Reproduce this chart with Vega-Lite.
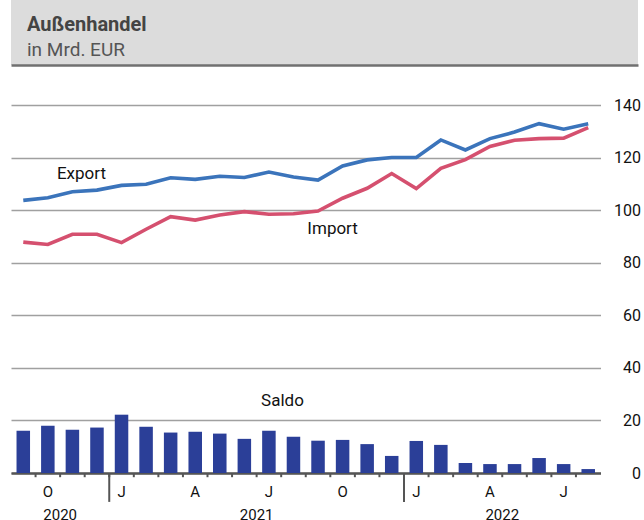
{
  "$schema": "https://vega.github.io/schema/vega-lite/v6.json",
  "padding": {"left": 11, "top": 0, "right": 0, "bottom": 0},
  "background": "#ffffff",
  "spacing": 14,
  "config": {
    "view": {"stroke": null},
    "font": "Roboto",
    "text": {"font": "Roboto"}
  },
  "datasets": {
    "trade": [
      {"month": "2020-09", "Export": 103.8, "Import": 87.9, "Saldo": 16.1},
      {"month": "2020-10", "Export": 104.8, "Import": 87.0, "Saldo": 18.0},
      {"month": "2020-11", "Export": 107.1, "Import": 90.9, "Saldo": 16.5},
      {"month": "2020-12", "Export": 107.7, "Import": 90.9, "Saldo": 17.3},
      {"month": "2021-01", "Export": 109.5, "Import": 87.7, "Saldo": 22.2},
      {"month": "2021-02", "Export": 109.9, "Import": 92.8, "Saldo": 17.6},
      {"month": "2021-03", "Export": 112.4, "Import": 97.6, "Saldo": 15.4},
      {"month": "2021-04", "Export": 111.8, "Import": 96.3, "Saldo": 15.7},
      {"month": "2021-05", "Export": 113.0, "Import": 98.2, "Saldo": 15.0},
      {"month": "2021-06", "Export": 112.5, "Import": 99.5, "Saldo": 13.0},
      {"month": "2021-07", "Export": 114.6, "Import": 98.5, "Saldo": 16.1},
      {"month": "2021-08", "Export": 112.7, "Import": 98.7, "Saldo": 13.8},
      {"month": "2021-09", "Export": 111.5, "Import": 99.7, "Saldo": 12.3},
      {"month": "2021-10", "Export": 116.9, "Import": 104.6, "Saldo": 12.6},
      {"month": "2021-11", "Export": 119.2, "Import": 108.4, "Saldo": 11.0},
      {"month": "2021-12", "Export": 120.1, "Import": 114.0, "Saldo": 6.5},
      {"month": "2022-01", "Export": 120.1, "Import": 108.3, "Saldo": 12.2},
      {"month": "2022-02", "Export": 126.8, "Import": 116.0, "Saldo": 10.7},
      {"month": "2022-03", "Export": 123.0, "Import": 119.3, "Saldo": 3.8},
      {"month": "2022-04", "Export": 127.3, "Import": 124.3, "Saldo": 3.4},
      {"month": "2022-05", "Export": 129.8, "Import": 126.7, "Saldo": 3.4},
      {"month": "2022-06", "Export": 133.0, "Import": 127.3, "Saldo": 5.7},
      {"month": "2022-07", "Export": 130.9, "Import": 127.5, "Saldo": 3.4},
      {"month": "2022-08", "Export": 133.0, "Import": 131.5, "Saldo": 1.5}
    ],
    "years": [
      {"year": "2020", "month": "2020-10"},
      {"year": "2021", "month": "2021-06"},
      {"year": "2022", "month": "2022-04"}
    ]
  },
  "vconcat": [
    {
      "width": 627,
      "height": 65,
      "view": {"fill": "#dcdcdc", "stroke": null},
      "title": {
        "text": "Außenhandel",
        "subtitle": "in Mrd. EUR",
        "anchor": "start",
        "frame": "group",
        "orient": "top",
        "offset": -60,
        "dx": 16,
        "font": "Roboto",
        "fontSize": 20,
        "fontWeight": "bold",
        "color": "#444444",
        "subtitleFont": "Roboto",
        "subtitleFontSize": 19,
        "subtitleColor": "#555555",
        "subtitlePadding": 6
      },
      "data": {"values": [{"a": 0}]},
      "mark": {"type": "text", "text": ""},
      "encoding": {
        "x": {
          "field": "a",
          "type": "quantitative",
          "axis": {
            "title": null, "labels": false, "ticks": false, "grid": false,
            "domain": true, "domainColor": "#707070", "domainWidth": 2.5
          }
        }
      }
    },
    {
      "width": 589.5,
      "height": 394,
      "data": {"name": "trade"},
      "layer": [
        {
          "mark": {"type": "bar", "color": "#2b3f98", "width": {"band": 0.55}},
          "encoding": {
            "x": {
              "field": "month",
              "type": "ordinal",
              "title": null,
              "scale": {"type": "band", "paddingInner": 0, "paddingOuter": 0},
              "axis": {
                "orient": "bottom",
                "domain": true,
                "domainColor": "#555555",
                "domainWidth": 2.5,
                "ticks": false,
                "tickSize": 0,
                "labelAngle": 0,
                "labelFontSize": 15,
                "labelColor": "#111111",
                "labelPadding": 11,
                "labelExpr": "slice(datum.value, 5) == '01' ? 'J' : slice(datum.value, 5) == '04' ? 'A' : slice(datum.value, 5) == '07' ? 'J' : slice(datum.value, 5) == '10' ? 'O' : ''",
                "grid": false
              }
            },
            "y": {
              "field": "Saldo",
              "type": "quantitative",
              "title": null,
              "scale": {"domain": [0, 150], "nice": false},
              "axis": {
                "orient": "right",
                "values": [0, 20, 40, 60, 80, 100, 120, 140],
                "grid": true,
                "gridColor": "#a0a0a0",
                "gridWidth": 1.3,
                "domain": false,
                "ticks": false,
                "labelAlign": "right",
                "labelPadding": 40,
                "labelFontSize": 16,
                "labelColor": "#111111"
              }
            }
          }
        },
        {
          "transform": [{"filter": "datum.month != '2022-08'"}],
          "mark": {"type": "rule", "color": "#555555", "strokeWidth": 2},
          "encoding": {
            "x": {"field": "month", "type": "ordinal", "bandPosition": 1, "title": null},
            "y": {"datum": 0, "type": "quantitative", "title": null},
            "y2": {"datum": -1.6}
          }
        },
        {
          "data": {"values": [{"boundary": "2020-12"}, {"boundary": "2021-12"}]},
          "mark": {"type": "rule", "color": "#555555", "strokeWidth": 2},
          "encoding": {
            "x": {"field": "boundary", "type": "ordinal", "bandPosition": 1, "title": null},
            "y": {"datum": 0, "type": "quantitative", "title": null},
            "y2": {"datum": -11}
          }
        },
        {
          "mark": {"type": "line", "color": "#3b74bb", "strokeWidth": 3.6},
          "encoding": {
            "x": {"field": "month", "type": "ordinal", "title": null},
            "y": {"field": "Export", "type": "quantitative", "title": null}
          }
        },
        {
          "mark": {"type": "line", "color": "#d5506f", "strokeWidth": 3.6},
          "encoding": {
            "x": {"field": "month", "type": "ordinal", "title": null},
            "y": {"field": "Import", "type": "quantitative", "title": null}
          }
        },
        {
          "data": {"values": [{"label": "Export"}]},
          "mark": {"type": "text", "fontSize": 17, "fill": "#111111", "align": "center", "baseline": "alphabetic", "dx": 9},
          "encoding": {
            "x": {"datum": "2020-11", "type": "ordinal", "title": null},
            "y": {"datum": 112.1, "type": "quantitative", "title": null},
            "text": {"field": "label"}
          }
        },
        {
          "data": {"values": [{"label": "Import"}]},
          "mark": {"type": "text", "fontSize": 17, "fill": "#111111", "align": "center", "baseline": "alphabetic", "dx": -10},
          "encoding": {
            "x": {"datum": "2021-10", "type": "ordinal", "title": null},
            "y": {"datum": 90.9, "type": "quantitative", "title": null},
            "text": {"field": "label"}
          }
        },
        {
          "data": {"values": [{"label": "Saldo"}]},
          "mark": {"type": "text", "fontSize": 17, "fill": "#111111", "align": "center", "baseline": "alphabetic", "dx": -11},
          "encoding": {
            "x": {"datum": "2021-08", "type": "ordinal", "title": null},
            "y": {"datum": 25.6, "type": "quantitative", "title": null},
            "text": {"field": "label"}
          }
        },
        {
          "data": {"name": "years"},
          "mark": {"type": "text", "fontSize": 15, "fill": "#111111", "align": "center", "baseline": "alphabetic", "dy": 47},
          "encoding": {
            "x": {"field": "month", "type": "ordinal", "bandPosition": 1, "title": null},
            "y": {"datum": 0, "type": "quantitative", "title": null},
            "text": {"field": "year"}
          }
        }
      ]
    }
  ]
}
